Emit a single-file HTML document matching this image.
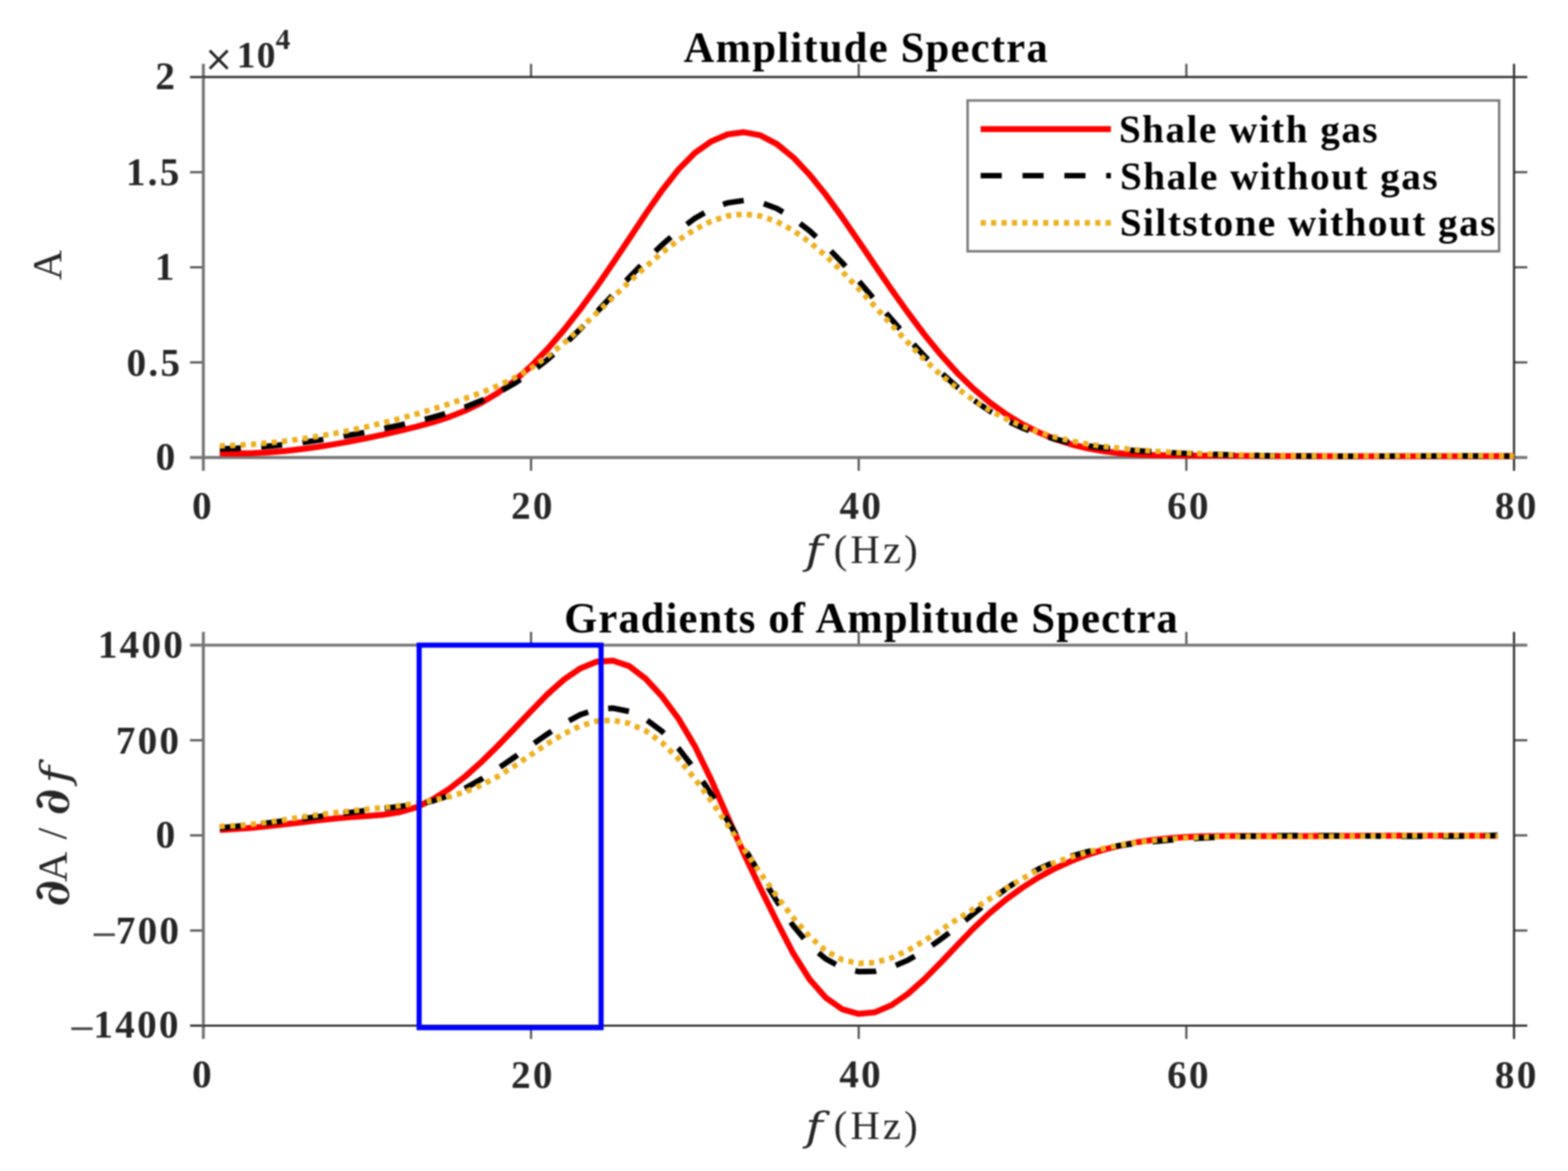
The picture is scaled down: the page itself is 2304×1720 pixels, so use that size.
<!DOCTYPE html>
<html><head><meta charset="utf-8"><title>Amplitude Spectra</title>
<style>html,body{margin:0;padding:0;background:#fff;overflow:hidden}svg{display:block;filter:blur(0.9px)}</style>
</head><body>
<svg width="2304" height="1720" viewBox="0 0 2304 1720">
<rect width="2304" height="1720" fill="#fff"/>
<g class="ln" stroke-linecap="butt" fill="none">
<line x1="298.8" y1="113.2" x2="298.8" y2="93.7" stroke="#767676" stroke-width="4.40"/>
<line x1="298.8" y1="672.0" x2="298.8" y2="691.5" stroke="#767676" stroke-width="4.40"/>
<line x1="780.3" y1="113.2" x2="780.3" y2="93.7" stroke="#555555" stroke-width="3.20"/>
<line x1="780.3" y1="672.0" x2="780.3" y2="691.5" stroke="#555555" stroke-width="3.20"/>
<line x1="1261.8" y1="113.2" x2="1261.8" y2="93.7" stroke="#555555" stroke-width="3.20"/>
<line x1="1261.8" y1="672.0" x2="1261.8" y2="691.5" stroke="#555555" stroke-width="3.20"/>
<line x1="1743.2" y1="113.2" x2="1743.2" y2="93.7" stroke="#555555" stroke-width="3.20"/>
<line x1="1743.2" y1="672.0" x2="1743.2" y2="691.5" stroke="#555555" stroke-width="3.20"/>
<line x1="2224.7" y1="113.2" x2="2224.7" y2="93.7" stroke="#303030" stroke-width="3.20"/>
<line x1="2224.7" y1="672.0" x2="2224.7" y2="691.5" stroke="#303030" stroke-width="3.20"/>
<line x1="298.8" y1="113.2" x2="279.3" y2="113.2" stroke="#303030" stroke-width="3.20"/>
<line x1="2224.7" y1="113.2" x2="2244.2" y2="113.2" stroke="#303030" stroke-width="3.20"/>
<line x1="298.8" y1="252.9" x2="279.3" y2="252.9" stroke="#555555" stroke-width="3.20"/>
<line x1="2224.7" y1="252.9" x2="2244.2" y2="252.9" stroke="#555555" stroke-width="3.20"/>
<line x1="298.8" y1="392.6" x2="279.3" y2="392.6" stroke="#555555" stroke-width="3.20"/>
<line x1="2224.7" y1="392.6" x2="2244.2" y2="392.6" stroke="#555555" stroke-width="3.20"/>
<line x1="298.8" y1="532.3" x2="279.3" y2="532.3" stroke="#555555" stroke-width="3.20"/>
<line x1="2224.7" y1="532.3" x2="2244.2" y2="532.3" stroke="#555555" stroke-width="3.20"/>
<line x1="298.8" y1="672.0" x2="279.3" y2="672.0" stroke="#767676" stroke-width="4.40"/>
<line x1="2224.7" y1="672.0" x2="2244.2" y2="672.0" stroke="#767676" stroke-width="4.40"/>
<line x1="298.8" y1="672.0" x2="2224.7" y2="672.0" stroke="#767676" stroke-width="4.40"/>
<line x1="298.8" y1="113.2" x2="298.8" y2="672.0" stroke="#767676" stroke-width="4.40"/>
<line x1="298.8" y1="113.2" x2="2224.7" y2="113.2" stroke="#303030" stroke-width="3.20"/>
<line x1="2224.7" y1="113.2" x2="2224.7" y2="672.0" stroke="#303030" stroke-width="3.20"/>
<line x1="298.8" y1="947.6" x2="298.8" y2="928.1" stroke="#767676" stroke-width="4.40"/>
<line x1="298.8" y1="1506.5" x2="298.8" y2="1526.0" stroke="#767676" stroke-width="4.40"/>
<line x1="780.3" y1="947.6" x2="780.3" y2="928.1" stroke="#555555" stroke-width="3.20"/>
<line x1="780.3" y1="1506.5" x2="780.3" y2="1526.0" stroke="#555555" stroke-width="3.20"/>
<line x1="1261.8" y1="947.6" x2="1261.8" y2="928.1" stroke="#555555" stroke-width="3.20"/>
<line x1="1261.8" y1="1506.5" x2="1261.8" y2="1526.0" stroke="#555555" stroke-width="3.20"/>
<line x1="1743.2" y1="947.6" x2="1743.2" y2="928.1" stroke="#555555" stroke-width="3.20"/>
<line x1="1743.2" y1="1506.5" x2="1743.2" y2="1526.0" stroke="#555555" stroke-width="3.20"/>
<line x1="2224.7" y1="947.6" x2="2224.7" y2="928.1" stroke="#303030" stroke-width="3.20"/>
<line x1="2224.7" y1="1506.5" x2="2224.7" y2="1526.0" stroke="#303030" stroke-width="3.20"/>
<line x1="298.8" y1="947.6" x2="279.3" y2="947.6" stroke="#767676" stroke-width="4.40"/>
<line x1="2224.7" y1="947.6" x2="2244.2" y2="947.6" stroke="#767676" stroke-width="4.40"/>
<line x1="298.8" y1="1087.3" x2="279.3" y2="1087.3" stroke="#555555" stroke-width="3.20"/>
<line x1="2224.7" y1="1087.3" x2="2244.2" y2="1087.3" stroke="#555555" stroke-width="3.20"/>
<line x1="298.8" y1="1227.0" x2="279.3" y2="1227.0" stroke="#555555" stroke-width="3.20"/>
<line x1="2224.7" y1="1227.0" x2="2244.2" y2="1227.0" stroke="#555555" stroke-width="3.20"/>
<line x1="298.8" y1="1366.8" x2="279.3" y2="1366.8" stroke="#555555" stroke-width="3.20"/>
<line x1="2224.7" y1="1366.8" x2="2244.2" y2="1366.8" stroke="#555555" stroke-width="3.20"/>
<line x1="298.8" y1="1506.5" x2="279.3" y2="1506.5" stroke="#303030" stroke-width="3.20"/>
<line x1="2224.7" y1="1506.5" x2="2244.2" y2="1506.5" stroke="#303030" stroke-width="3.20"/>
<line x1="298.8" y1="947.6" x2="2224.7" y2="947.6" stroke="#767676" stroke-width="4.40"/>
<line x1="298.8" y1="947.6" x2="298.8" y2="1506.5" stroke="#767676" stroke-width="4.40"/>
<line x1="298.8" y1="1506.5" x2="2224.7" y2="1506.5" stroke="#303030" stroke-width="3.20"/>
<line x1="2224.7" y1="947.6" x2="2224.7" y2="1506.5" stroke="#303030" stroke-width="3.20"/>
<path d="M322.9 665.6 L346.9 666.1 L371.0 665.6 L395.1 664.4 L419.2 662.4 L443.2 659.7 L467.3 656.4 L491.4 652.5 L515.5 648.2 L539.5 643.4 L563.6 638.2 L587.7 632.6 L611.8 626.8 L635.8 620.2 L659.9 612.5 L684.0 603.0 L708.1 591.3 L732.1 576.8 L756.2 559.2 L780.3 537.8 L804.3 512.9 L828.4 485.0 L852.5 454.3 L876.6 421.4 L900.6 386.6 L924.7 350.5 L948.8 314.1 L972.9 279.5 L996.9 249.0 L1021.0 224.7 L1045.1 207.7 L1069.2 197.4 L1093.2 194.2 L1117.3 198.8 L1141.4 211.5 L1165.5 231.1 L1189.5 256.5 L1213.6 286.3 L1237.7 319.4 L1261.8 354.4 L1285.8 390.0 L1309.9 425.2 L1334.0 459.0 L1358.0 491.0 L1382.1 520.6 L1406.2 547.3 L1430.3 570.8 L1454.3 591.1 L1478.4 608.5 L1502.5 623.2 L1526.6 635.3 L1550.6 645.1 L1574.7 652.9 L1598.8 658.7 L1622.9 662.9 L1646.9 665.8 L1671.0 667.5 L1695.1 668.5 L1719.2 668.9 L1743.2 669.1 L1767.3 669.3 L1791.4 669.4 L1815.4 669.6 L1839.5 669.7 L1863.6 669.8 L1887.7 669.9 L1911.7 670.0 L1935.8 670.0 L1959.9 670.1 L1984.0 670.1 L2008.0 670.2 L2032.1 670.2 L2056.2 670.2 L2080.3 670.2 L2104.3 670.2 L2128.4 670.2 L2152.5 670.1 L2176.6 670.1 L2200.6 670.0 L2224.7 670.0" stroke="#ff0000" stroke-width="8.8" stroke-linejoin="round"/>
<path d="M322.9 659.3 L346.9 658.6 L371.0 657.2 L395.1 655.3 L419.2 652.9 L443.2 650.0 L467.3 646.7 L491.4 643.0 L515.5 638.9 L539.5 634.4 L563.6 629.6 L587.7 624.5 L611.8 619.1 L635.8 613.0 L659.9 606.0 L684.0 597.8 L708.1 588.1 L732.1 576.6 L756.2 563.0 L780.3 547.0 L804.3 528.4 L828.4 507.0 L852.5 483.5 L876.6 458.6 L900.6 432.9 L924.7 407.4 L948.8 382.7 L972.9 359.5 L996.9 338.6 L1021.0 320.8 L1045.1 307.0 L1069.2 297.9 L1093.2 294.5 L1117.3 297.3 L1141.4 306.2 L1165.5 320.4 L1189.5 339.0 L1213.6 361.1 L1237.7 386.0 L1261.8 412.8 L1285.8 440.8 L1309.9 468.9 L1334.0 496.5 L1358.0 522.6 L1382.1 546.6 L1406.2 568.2 L1430.3 587.4 L1454.3 603.8 L1478.4 617.5 L1502.5 628.7 L1526.6 637.8 L1550.6 645.1 L1574.7 650.6 L1598.8 654.9 L1622.9 658.0 L1646.9 660.3 L1671.0 662.1 L1695.1 663.6 L1719.2 664.9 L1743.2 666.0 L1767.3 666.9 L1791.4 667.7 L1815.4 668.4 L1839.5 668.9 L1863.6 669.3 L1887.7 669.6 L1911.7 669.8 L1935.8 670.0 L1959.9 670.1 L1984.0 670.1 L2008.0 670.0 L2032.1 670.0 L2056.2 669.9 L2080.3 669.9 L2104.3 669.8 L2128.4 669.7 L2152.5 669.7 L2176.6 669.8 L2200.6 669.8 L2224.7 670.0" stroke="#000000" stroke-width="8.2" stroke-dasharray="31 30"/>
<path d="M322.9 655.0 L346.9 654.1 L371.0 652.6 L395.1 650.5 L419.2 647.9 L443.2 644.7 L467.3 640.9 L491.4 636.7 L515.5 631.9 L539.5 626.7 L563.6 620.9 L587.7 614.7 L611.8 608.1 L635.8 600.9 L659.9 593.3 L684.0 585.1 L708.1 576.3 L732.1 566.5 L756.2 555.0 L780.3 540.8 L804.3 523.6 L828.4 504.0 L852.5 482.5 L876.6 459.9 L900.6 436.8 L924.7 413.9 L948.8 391.8 L972.9 371.1 L996.9 352.6 L1021.0 337.0 L1045.1 324.9 L1069.2 317.1 L1093.2 314.4 L1117.3 317.3 L1141.4 325.5 L1165.5 338.5 L1189.5 355.5 L1213.6 375.9 L1237.7 399.1 L1261.8 424.2 L1285.8 450.4 L1309.9 477.0 L1334.0 503.0 L1358.0 527.8 L1382.1 550.3 L1406.2 570.2 L1430.3 587.6 L1454.3 602.5 L1478.4 615.3 L1502.5 626.0 L1526.6 634.9 L1550.6 642.1 L1574.7 647.9 L1598.8 652.4 L1622.9 655.9 L1646.9 658.7 L1671.0 660.8 L1695.1 662.6 L1719.2 664.1 L1743.2 665.4 L1767.3 666.5 L1791.4 667.4 L1815.4 668.2 L1839.5 668.7 L1863.6 669.2 L1887.7 669.5 L1911.7 669.7 L1935.8 669.8 L1959.9 669.8 L1984.0 669.8 L2008.0 669.7 L2032.1 669.6 L2056.2 669.5 L2080.3 669.4 L2104.3 669.4 L2128.4 669.4 L2152.5 669.4 L2176.6 669.5 L2200.6 669.7 L2224.7 670.0" stroke="#edb120" stroke-width="8.2" stroke-dasharray="7.6 7.7"/>
<path d="M322.9 1219.0 L346.9 1217.7 L371.0 1215.8 L395.1 1213.4 L419.2 1210.7 L443.2 1207.8 L467.3 1205.0 L491.4 1202.4 L515.5 1200.2 L539.5 1198.6 L563.6 1196.7 L587.7 1192.9 L611.8 1185.8 L635.8 1174.3 L659.9 1158.9 L684.0 1140.1 L708.1 1118.5 L732.1 1094.9 L756.2 1069.9 L780.3 1044.4 L804.3 1019.9 L828.4 998.4 L852.5 981.8 L876.6 972.0 L900.6 970.4 L924.7 978.5 L948.8 997.0 L972.9 1023.1 L996.9 1055.5 L1021.0 1095.9 L1045.1 1145.5 L1069.2 1200.1 L1093.2 1254.0 L1117.3 1304.7 L1141.4 1353.5 L1165.5 1400.2 L1189.5 1438.3 L1213.6 1465.7 L1237.7 1482.5 L1261.8 1489.2 L1285.8 1486.8 L1309.9 1476.5 L1334.0 1459.9 L1358.0 1438.5 L1382.1 1414.2 L1406.2 1388.7 L1430.3 1363.8 L1454.3 1341.1 L1478.4 1321.1 L1502.5 1303.6 L1526.6 1288.4 L1550.6 1275.4 L1574.7 1264.4 L1598.8 1255.2 L1622.9 1247.7 L1646.9 1241.7 L1671.0 1237.0 L1695.1 1233.6 L1719.2 1231.1 L1743.2 1229.5 L1767.3 1228.5 L1791.4 1228.1 L1815.4 1227.9 L1839.5 1228.0 L1863.6 1228.1 L1887.7 1228.1 L1911.7 1228.1 L1935.8 1228.0 L1959.9 1227.9 L1984.0 1227.8 L2008.0 1227.7 L2032.1 1227.6 L2056.2 1227.5 L2080.3 1227.5 L2104.3 1227.4 L2128.4 1227.5 L2152.5 1227.5 L2176.6 1227.7 L2200.6 1227.9" stroke="#ff0000" stroke-width="8.8" stroke-linejoin="round"/>
<path d="M322.9 1216.1 L346.9 1213.8 L371.0 1211.2 L395.1 1208.5 L419.2 1205.6 L443.2 1202.6 L467.3 1199.5 L491.4 1196.4 L515.5 1193.3 L539.5 1190.3 L563.6 1187.4 L587.7 1184.6 L611.8 1181.5 L635.8 1176.6 L659.9 1168.6 L684.0 1157.5 L708.1 1143.9 L732.1 1128.5 L756.2 1112.0 L780.3 1095.0 L804.3 1078.2 L828.4 1062.6 L852.5 1049.9 L876.6 1041.9 L900.6 1040.2 L924.7 1045.0 L948.8 1056.4 L972.9 1074.4 L996.9 1099.1 L1021.0 1130.3 L1045.1 1166.5 L1069.2 1205.4 L1093.2 1245.1 L1117.3 1284.7 L1141.4 1323.6 L1165.5 1359.6 L1189.5 1388.3 L1213.6 1408.7 L1237.7 1421.4 L1261.8 1427.2 L1285.8 1426.7 L1309.9 1420.8 L1334.0 1410.4 L1358.0 1396.4 L1382.1 1379.8 L1406.2 1361.5 L1430.3 1342.3 L1454.3 1323.3 L1478.4 1305.4 L1502.5 1289.4 L1526.6 1276.2 L1550.6 1265.6 L1574.7 1257.3 L1598.8 1250.8 L1622.9 1245.7 L1646.9 1241.8 L1671.0 1238.7 L1695.1 1236.2 L1719.2 1234.0 L1743.2 1232.3 L1767.3 1230.8 L1791.4 1229.7 L1815.4 1228.8 L1839.5 1228.2 L1863.6 1227.8 L1887.7 1227.5 L1911.7 1227.4 L1935.8 1227.5 L1959.9 1227.6 L1984.0 1227.8 L2008.0 1228.0 L2032.1 1228.2 L2056.2 1228.3 L2080.3 1228.4 L2104.3 1228.5 L2128.4 1228.3 L2152.5 1228.1 L2176.6 1227.6 L2200.6 1226.9" stroke="#000000" stroke-width="8.2" stroke-dasharray="31 30"/>
<path d="M322.9 1213.8 L346.9 1212.9 L371.0 1210.7 L395.1 1207.6 L419.2 1204.0 L443.2 1200.2 L467.3 1196.8 L491.4 1193.8 L515.5 1191.2 L539.5 1188.7 L563.6 1186.1 L587.7 1183.3 L611.8 1179.9 L635.8 1175.8 L659.9 1170.3 L684.0 1162.9 L708.1 1153.0 L732.1 1140.1 L756.2 1124.9 L780.3 1108.6 L804.3 1092.4 L828.4 1077.9 L852.5 1066.3 L876.6 1059.3 L900.6 1057.9 L924.7 1062.6 L948.8 1073.6 L972.9 1090.8 L996.9 1114.6 L1021.0 1143.8 L1045.1 1176.7 L1069.2 1211.7 L1093.2 1247.3 L1117.3 1282.5 L1141.4 1316.5 L1165.5 1348.0 L1189.5 1375.5 L1213.6 1396.7 L1237.7 1409.8 L1261.8 1415.1 L1285.8 1413.8 L1309.9 1407.0 L1334.0 1396.0 L1358.0 1382.0 L1382.1 1366.3 L1406.2 1350.5 L1430.3 1335.3 L1454.3 1320.3 L1478.4 1305.1 L1502.5 1290.4 L1526.6 1277.3 L1550.6 1266.8 L1574.7 1258.5 L1598.8 1251.6 L1622.9 1245.9 L1646.9 1241.2 L1671.0 1237.4 L1695.1 1234.5 L1719.2 1232.3 L1743.2 1230.7 L1767.3 1229.6 L1791.4 1229.0 L1815.4 1228.8 L1839.5 1228.7 L1863.6 1228.8 L1887.7 1228.9 L1911.7 1228.9 L1935.8 1228.8 L1959.9 1228.6 L1984.0 1228.4 L2008.0 1228.1 L2032.1 1227.8 L2056.2 1227.5 L2080.3 1227.3 L2104.3 1227.2 L2128.4 1227.2 L2152.5 1227.3 L2176.6 1227.6 L2200.6 1228.1" stroke="#edb120" stroke-width="8.2" stroke-dasharray="7.6 7.7"/>
<rect x="615.9" y="947.6" width="267.3" height="561.9" stroke="#0000ff" stroke-width="7.5" fill="none" stroke-linejoin="miter"/>
<rect x="1421.8" y="147.6" width="781" height="221.5" stroke="#7a7a7a" stroke-width="3.6" fill="#fff"/>
<line x1="1441.0" y1="189.6" x2="1632.3" y2="189.6" stroke="#ff0000" stroke-width="8.80"/>
<line x1="1441" y1="258" x2="1632.3" y2="258" stroke="#000" stroke-width="8.2" stroke-dasharray="31 30.5"/>
<line x1="1441" y1="327.4" x2="1632.3" y2="327.4" stroke="#edb120" stroke-width="8.2" stroke-dasharray="7.6 7.7"/>
</g>
<g class="tx">
<text id="ty2" x="228.3" y="131.3" text-anchor="start" style="font-family:'Liberation Serif',serif;font-size:57.5px;fill:#262626;font-weight:bold;letter-spacing:3.30px;">2</text>
<text id="ty15" x="185.0" y="272.2" text-anchor="start" style="font-family:'Liberation Serif',serif;font-size:57.5px;fill:#262626;font-weight:bold;letter-spacing:3.30px;">1.5</text>
<text id="ty1" x="227.4" y="410.9" text-anchor="start" style="font-family:'Liberation Serif',serif;font-size:57.5px;fill:#262626;font-weight:bold;letter-spacing:3.30px;">1</text>
<text id="ty05" x="186.0" y="552.0" text-anchor="start" style="font-family:'Liberation Serif',serif;font-size:57.5px;fill:#262626;font-weight:bold;letter-spacing:3.30px;">0.5</text>
<text id="ty0" x="228.8" y="690.1" text-anchor="start" style="font-family:'Liberation Serif',serif;font-size:57.5px;fill:#262626;font-weight:bold;letter-spacing:3.30px;">0</text>
<text id="tx0" x="282.3" y="762.1" text-anchor="start" style="font-family:'Liberation Serif',serif;font-size:57.5px;fill:#262626;font-weight:bold;letter-spacing:3.30px;">0</text>
<text id="tx20" x="751.0" y="762.1" text-anchor="start" style="font-family:'Liberation Serif',serif;font-size:57.5px;fill:#262626;font-weight:bold;letter-spacing:3.30px;">20</text>
<text id="tx40" x="1233.6" y="761.5" text-anchor="start" style="font-family:'Liberation Serif',serif;font-size:57.5px;fill:#262626;font-weight:bold;letter-spacing:3.30px;">40</text>
<text id="tx60" x="1714.9" y="762.1" text-anchor="start" style="font-family:'Liberation Serif',serif;font-size:57.5px;fill:#262626;font-weight:bold;letter-spacing:3.30px;">60</text>
<text id="tx80" x="2196.6" y="762.1" text-anchor="start" style="font-family:'Liberation Serif',serif;font-size:57.5px;fill:#262626;font-weight:bold;letter-spacing:3.30px;">80</text>
<text id="by1400" x="143.8" y="966.1" text-anchor="start" style="font-family:'Liberation Serif',serif;font-size:57.5px;fill:#262626;font-weight:bold;letter-spacing:3.30px;">1400</text>
<text id="by700" x="170.2" y="1107.0" text-anchor="start" style="font-family:'Liberation Serif',serif;font-size:57.5px;fill:#262626;font-weight:bold;letter-spacing:3.30px;">700</text>
<text id="by0" x="228.7" y="1244.8" text-anchor="start" style="font-family:'Liberation Serif',serif;font-size:57.5px;fill:#262626;font-weight:bold;letter-spacing:3.30px;">0</text>
<text id="bym700" x="170.2" y="1386.3" text-anchor="start" style="font-family:'Liberation Serif',serif;font-size:57.5px;fill:#262626;font-weight:bold;letter-spacing:3.30px;">700</text>
<text id="bym1400" x="137.3" y="1524.3" text-anchor="start" style="font-family:'Liberation Serif',serif;font-size:57.5px;fill:#262626;font-weight:bold;letter-spacing:3.30px;">1400</text>
<text id="bx0" x="282.2" y="1597.1" text-anchor="start" style="font-family:'Liberation Serif',serif;font-size:57.5px;fill:#262626;font-weight:bold;letter-spacing:3.30px;">0</text>
<text id="bx20" x="751.0" y="1597.7" text-anchor="start" style="font-family:'Liberation Serif',serif;font-size:57.5px;fill:#262626;font-weight:bold;letter-spacing:3.30px;">20</text>
<text id="bx40" x="1233.3" y="1597.4" text-anchor="start" style="font-family:'Liberation Serif',serif;font-size:57.5px;fill:#262626;font-weight:bold;letter-spacing:3.30px;">40</text>
<text id="bx60" x="1714.9" y="1597.7" text-anchor="start" style="font-family:'Liberation Serif',serif;font-size:57.5px;fill:#262626;font-weight:bold;letter-spacing:3.30px;">60</text>
<text id="bx80" x="2196.6" y="1597.7" text-anchor="start" style="font-family:'Liberation Serif',serif;font-size:57.5px;fill:#262626;font-weight:bold;letter-spacing:3.30px;">80</text>
<text id="ttitle" x="1004.6" y="90.9" text-anchor="start" style="font-family:'Liberation Serif',serif;font-size:62.5px;fill:#000;font-weight:bold;letter-spacing:1.85px;">Amplitude Spectra</text>
<text id="btitle" x="828.9" y="929.3" text-anchor="start" style="font-family:'Liberation Serif',serif;font-size:62.5px;fill:#000;font-weight:bold;letter-spacing:1.70px;">Gradients of Amplitude Spectra</text>
<text id="times" x="299.5" y="103.7" text-anchor="start" style="font-family:'DejaVu Serif',serif;font-size:52.0px;fill:#262626;">×</text>
<text id="ten" x="347.8" y="99.3" text-anchor="start" style="font-family:'Liberation Serif',serif;font-size:55.0px;fill:#262626;font-weight:bold;letter-spacing:2.00px;">10</text>
<text id="four" x="404.9" y="72.4" text-anchor="start" style="font-family:'Liberation Serif',serif;font-size:43.0px;fill:#262626;font-weight:bold;">4</text>
<text id="txf" x="1183.5" y="828.5" text-anchor="start" style="font-family:'DejaVu Serif',serif;font-size:58.0px;fill:#262626;font-style:italic;" transform="translate(-236.71 0) scale(1.200 1)">f</text>
<text id="txhz" x="1225.1" y="827.1" text-anchor="start" style="font-family:'Liberation Serif',serif;font-size:60.0px;fill:#262626;letter-spacing:4.50px;">(Hz)</text>
<text id="bxf" x="1183.5" y="1675.2" text-anchor="start" style="font-family:'DejaVu Serif',serif;font-size:58.0px;fill:#262626;font-style:italic;" transform="translate(-236.71 0) scale(1.200 1)">f</text>
<text id="bxhz" x="1225.0" y="1672.8" text-anchor="start" style="font-family:'Liberation Serif',serif;font-size:60.0px;fill:#262626;letter-spacing:4.50px;">(Hz)</text>
<text id="tyA" x="90.4" y="411.2" text-anchor="start" style="font-family:'Liberation Serif',serif;font-size:61.0px;fill:#262626;" transform="rotate(-90 90.4 411.2)">A</text>
<text id="byd1" x="101.5" y="1331.2" text-anchor="start" style="font-family:'DejaVu Serif',serif;font-size:72.0px;fill:#262626;font-weight:bold;font-style:italic;" transform="rotate(-90 101.5 1331.2)">∂</text>
<text id="byA" x="98.4" y="1295.5" text-anchor="start" style="font-family:'Liberation Serif',serif;font-size:62.0px;fill:#262626;" transform="rotate(-90 98.4 1295.5)">A</text>
<text id="bysl" x="97.1" y="1232.9" text-anchor="start" style="font-family:'Liberation Serif',serif;font-size:62.0px;fill:#262626;" transform="rotate(-90 97.1 1232.9)">/</text>
<text id="byd2" x="101.5" y="1197.2" text-anchor="start" style="font-family:'DejaVu Serif',serif;font-size:72.0px;fill:#262626;font-weight:bold;font-style:italic;" transform="rotate(-90 101.5 1197.2)">∂</text>
<text id="byf" x="100.7" y="1150.7" text-anchor="start" style="font-family:'DejaVu Serif',serif;font-size:58.0px;fill:#262626;font-style:italic;" transform="rotate(-90 100.7 1150.7) translate(-20.13 0) scale(1.200 1)">f</text>
<text id="lg1" x="1644.2" y="209.2" text-anchor="start" style="font-family:'Liberation Serif',serif;font-size:57.5px;fill:#000;font-weight:bold;letter-spacing:2.20px;">Shale with gas</text>
<text id="lg2" x="1645.8" y="277.5" text-anchor="start" style="font-family:'Liberation Serif',serif;font-size:57.5px;fill:#000;font-weight:bold;letter-spacing:2.20px;">Shale without gas</text>
<text id="lg3" x="1645.4" y="346.1" text-anchor="start" style="font-family:'Liberation Serif',serif;font-size:57.5px;fill:#000;font-weight:bold;letter-spacing:2.20px;">Siltstone without gas</text>
<text id="bymm700" x="133.9" y="1391.8" text-anchor="start" style="font-family:'Liberation Serif',serif;font-size:57.5px;fill:#4a4a4a;font-weight:bold;" transform="translate(-22.77 0) scale(1.170 1)">−</text>
<text id="bymm1400" x="101.3" y="1530.3" text-anchor="start" style="font-family:'Liberation Serif',serif;font-size:57.5px;fill:#4a4a4a;font-weight:bold;" transform="translate(-17.22 0) scale(1.170 1)">−</text>
</g>
</svg>
</body></html>
